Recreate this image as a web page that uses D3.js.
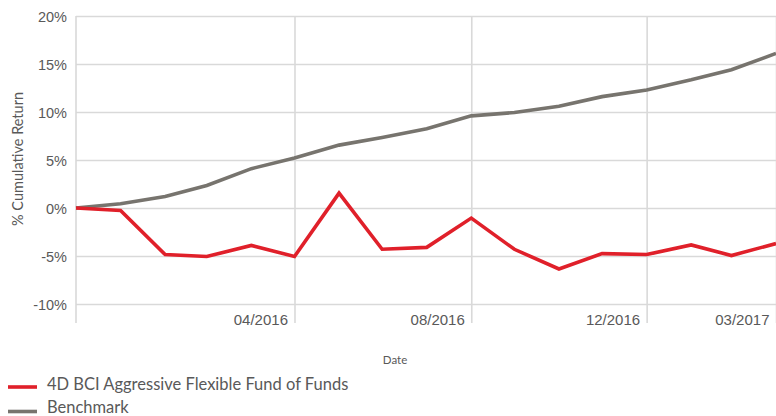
<!DOCTYPE html>
<html>
<head>
<meta charset="utf-8">
<script src="https://cdn.jsdelivr.net/npm/d3@7"></script>
<style>
  body { margin: 0; background: #fff; }
  svg { display: block; font-family: Lato, "Open Sans", sans-serif; }
  .tick text { fill: #595959; }
</style>
</head>
<body>
<svg class="line_chart" width="776" height="416"></svg>
<script>
// month-end dates of the series
const dates = ['2015-11-30', '2015-12-31', '2016-01-31', '2016-02-29', '2016-03-31', '2016-04-30',
    '2016-05-31', '2016-06-30', '2016-07-31', '2016-08-31', '2016-09-30', '2016-10-31',
    '2016-11-30', '2016-12-31', '2017-01-31', '2017-02-28', '2017-03-31'];

// % cumulative return
const fundValues = [0, -0.25, -4.85, -5.05, -3.9, -5.05, 1.55, -4.3, -4.1, -1.05, -4.3, -6.35,
    -4.75, -4.85, -3.85, -4.95, -3.7];
const benchmarkValues = [0, 0.45, 1.2, 2.35, 4.1, 5.2, 6.55, 7.35, 8.25, 9.6, 9.95, 10.6,
    11.6, 12.3, 13.35, 14.4, 16.1];

const xTickDates = ['2016-04-30', '2016-08-31', '2016-12-31', '2017-03-31'];
const yTicks = [-10, -5, 0, 5, 10, 15, 20];

const seriesNames = ['4D BCI Aggressive Flexible Fund of Funds', 'Benchmark'];
const seriesColors = ['#e0202a', '#77746e'];

const chart = d3.select('.line_chart');
const margin = { left: 76, top: 16, right: 0, bottom: 112 };
const chartWidth = +chart.attr('width') - margin.left - margin.right;
const chartHeight = +chart.attr('height') - margin.top - margin.bottom;

const parse = d3.timeParse('%Y-%m-%d');
const series = [fundValues, benchmarkValues].map((vals, i) => ({
    name: seriesNames[i],
    color: seriesColors[i],
    values: vals.map((v, j) => ({ date: parse(dates[j]), value: v }))
}));

const x = d3.scaleTime()
    .domain(d3.extent(dates, parse))
    .range([0, chartWidth]);

const y = d3.scaleLinear()
    .domain([-10, 20])
    .range([chartHeight, 0]);

const g = chart.append('g')
    .attr('transform', `translate(${margin.left} ${margin.top})`);

// horizontal grid + y labels
const yAxisG = g.append('g')
    .call(d3.axisLeft(y)
        .tickValues(yTicks)
        .tickSize(-chartWidth)
        .tickPadding(9)
        .tickFormat(d => d + '%'));
yAxisG.select('.domain').remove();
yAxisG.selectAll('.tick line').attr('stroke', '#d9d9d9').attr('stroke-width', 1.6);
yAxisG.selectAll('.tick text').attr('font-size', 14.5).attr('dy', '0.4em');

// vertical grid + x labels
const xAxisG = g.append('g')
    .attr('transform', `translate(0, ${chartHeight})`)
    .call(d3.axisBottom(x)
        .tickValues(xTickDates.map(parse))
        .tickSize(-chartHeight)
        .tickFormat(d3.timeFormat('%m/%Y')));
xAxisG.select('.domain').remove();
xAxisG.selectAll('.tick line')
    .attr('y2', 19)
    .attr('y1', -chartHeight)
    .attr('stroke', '#d9d9d9').attr('stroke-width', 1.6);
xAxisG.selectAll('.tick text')
    .attr('font-size', 15)
    .attr('text-anchor', 'end')
    .attr('x', -7)
    .attr('y', 10)
    .attr('dy', '0.71em');

// left axis line
g.append('line')
    .attr('x1', 0).attr('x2', 0)
    .attr('y1', 0).attr('y2', chartHeight + 19)
    .attr('stroke', '#d9d9d9').attr('stroke-width', 1.6);

// axis titles
g.append('text')
    .attr('transform', 'rotate(-90)')
    .attr('x', -143)
    .attr('y', -53)
    .attr('text-anchor', 'middle')
    .attr('font-size', 14.5)
    .attr('fill', '#595959')
    .text('% Cumulative Return');

chart.append('text')
    .attr('x', 395)
    .attr('y', 364)
    .attr('text-anchor', 'middle')
    .attr('font-size', 11.5)
    .attr('fill', '#595959')
    .text('Date');

const line = d3.line()
    .x(d => x(d.date))
    .y(d => y(d.value));

// benchmark under fund
g.selectAll('.series')
    .data(series.slice().reverse())
    .join('path')
    .attr('class', 'series')
    .attr('fill', 'none')
    .attr('stroke', d => d.color)
    .attr('stroke-width', 3.6)
    .attr('stroke-linejoin', 'miter')
    .attr('d', d => line(d.values));

// legend
const legend = chart.append('g')
    .selectAll('g')
    .data(series)
    .join('g')
    .attr('transform', (d, i) => `translate(8 ${387 + i * 23})`);

legend.append('line')
    .attr('x1', 0).attr('x2', 29)
    .attr('y1', (d, i) => i * 1.5).attr('y2', (d, i) => i * 1.5)
    .attr('stroke', d => d.color)
    .attr('stroke-width', 3.6);

legend.append('text')
    .attr('x', 39)
    .attr('y', 3)
    .attr('font-size', 16.5)
    .attr('fill', '#595959')
    .text(d => d.name);
</script>
</body>
</html>
